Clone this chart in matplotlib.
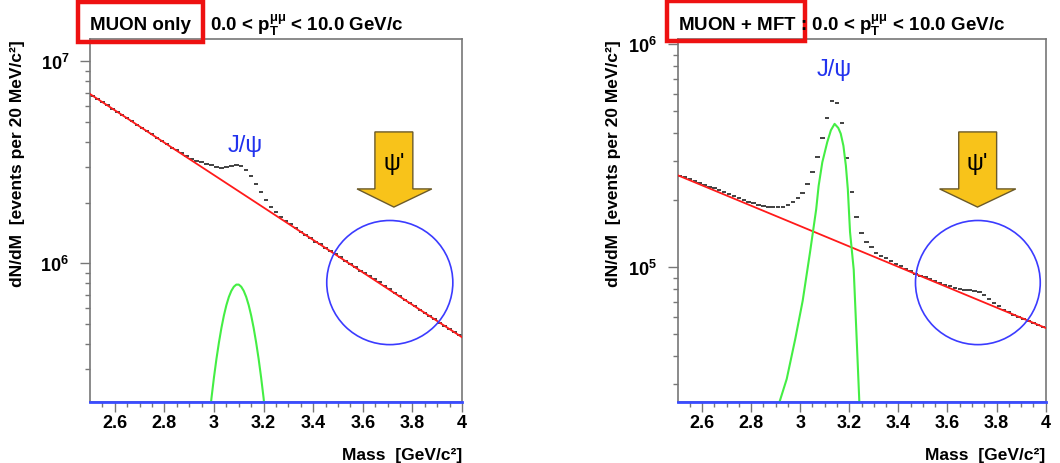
import numpy as np
import matplotlib.pyplot as plt
from matplotlib.patches import Polygon, Ellipse, Rectangle
from matplotlib.ticker import LogLocator, NullFormatter

plt.rcParams['font.family'] = ['Liberation Sans', 'DejaVu Sans']
plt.rcParams['font.weight'] = 'bold'
plt.rcParams['mathtext.fontset'] = 'custom'
plt.rcParams['mathtext.rm'] = 'Liberation Sans:bold'
plt.rcParams['mathtext.it'] = 'Liberation Sans:bold'
plt.rcParams['mathtext.bf'] = 'Liberation Sans:bold'

# 20 MeV bin centres, 2.5 - 4.0 GeV
mass = np.round(np.arange(2.51, 4.0, 0.02), 2)

# MUON only
muon_data = [6.76e6, 6.52e6, 6.28e6, 6.05e6, 5.83e6, 5.62e6, 5.42e6, 5.22e6, 5.04e6, 4.85e6,
             4.68e6, 4.51e6, 4.35e6, 4.18e6, 4.03e6, 3.88e6, 3.74e6, 3.63e6, 3.52e6, 3.40e6,
             3.30e6, 3.22e6, 3.18e6, 3.12e6, 3.07e6, 3.01e6, 2.97e6, 2.99e6, 3.03e6, 3.07e6,
             3.03e6, 2.90e6, 2.70e6, 2.47e6, 2.25e6, 2.05e6, 1.91e6, 1.79e6, 1.70e6, 1.62e6,
             1.56e6, 1.49e6, 1.43e6, 1.38e6, 1.33e6, 1.28e6, 1.24e6, 1.19e6, 1.15e6, 1.11e6,
             1.07e6, 1.03e6, 9.91e5, 9.55e5, 9.20e5, 8.91e5, 8.63e5, 8.34e5, 8.05e5, 7.76e5,
             7.46e5, 7.16e5, 6.89e5, 6.61e5, 6.37e5, 6.12e5, 5.90e5, 5.69e5, 5.48e5, 5.28e5,
             5.09e5, 4.91e5, 4.73e5, 4.56e5, 4.40e5]
muon_bkg_m = [2.5, 4.0]
muon_bkg = [6.89e6, 4.31e5]
muon_jpsi_m = [2.98, 2.99, 3.00, 3.01, 3.02, 3.03, 3.04, 3.05, 3.06, 3.07, 3.08, 3.09,
               3.10, 3.11, 3.12, 3.13, 3.14, 3.15, 3.16, 3.17, 3.18, 3.19, 3.20, 3.21]
muon_jpsi = [1.66e5, 2.16e5, 2.73e5, 3.37e5, 4.06e5, 4.79e5, 5.52e5, 6.21e5, 6.82e5, 7.31e5,
             7.66e5, 7.85e5, 7.85e5, 7.66e5, 7.31e5, 6.82e5, 6.21e5, 5.52e5, 4.79e5, 4.06e5,
             3.37e5, 2.73e5, 2.16e5, 1.66e5]

# MUON + MFT
mft_data = [2.57e5, 2.53e5, 2.48e5, 2.43e5, 2.39e5, 2.34e5, 2.30e5, 2.27e5, 2.23e5, 2.18e5,
            2.14e5, 2.09e5, 2.05e5, 2.01e5, 1.97e5, 1.94e5, 1.91e5, 1.88e5, 1.87e5, 1.86e5,
            1.86e5, 1.87e5, 1.91e5, 1.96e5, 2.05e5, 2.15e5, 2.36e5, 2.68e5, 3.12e5, 3.81e5,
            4.69e5, 5.60e5, 5.48e5, 4.43e5, 3.08e5, 2.18e5, 1.69e5, 1.43e5, 1.30e5, 1.23e5,
            1.16e5, 1.13e5, 1.10e5, 1.07e5, 1.04e5, 1.01e5, 9.86e4, 9.61e4, 9.36e4, 9.17e4,
            9.02e4, 8.85e4, 8.69e4, 8.53e4, 8.37e4, 8.21e4, 8.08e4, 7.98e4, 7.93e4, 7.89e4,
            7.85e4, 7.79e4, 7.51e4, 7.20e4, 6.92e4, 6.68e4, 6.47e4, 6.29e4, 6.13e4, 6.00e4,
            5.88e4, 5.76e4, 5.64e4, 5.52e4, 5.40e4]
mft_bkg_m = [2.5, 4.0]
mft_bkg = [2.59e5, 5.35e4]
mft_jpsi_m = [2.90, 2.915, 2.945, 2.98, 3.01, 3.04, 3.065, 3.075, 3.09, 3.11, 3.125,
              3.14, 3.155, 3.165, 3.176, 3.186, 3.194, 3.203, 3.218, 3.23, 3.241, 3.25]
mft_jpsi = [2.14e4, 2.48e4, 3.16e4, 4.79e4, 7.08e4, 1.17e5, 1.82e5, 2.32e5, 2.96e5, 3.64e5,
            4.12e5, 4.40e5, 4.22e5, 3.98e5, 3.51e5, 2.86e5, 2.24e5, 1.44e5, 9.77e4, 4.79e4,
            2.48e4, 2.0e4]

xticks = [2.6, 2.8, 3.0, 3.2, 3.4, 3.6, 3.8, 4.0]
xticklabels = ['2.6', '2.8', '3', '3.2', '3.4', '3.6', '3.8', '4']

gray = '#777777'


def panel(ax, data, bkg_m, bkg, jpsi_m, jpsi, ylim, yticks, ylabx, jx, jy, ax_x, cx):
    ax.hlines(data, mass - 0.009, mass + 0.009, colors='#333333', lw=1.3, zorder=2)
    ax.plot(bkg_m, bkg, color='#ff1a1a', lw=1.3, zorder=3)
    ax.plot(jpsi_m, jpsi, color='#44ee44', lw=1.5, zorder=3)
    ax.axhline(ylim[0], color='#3a4cff', lw=2, zorder=5, clip_on=False)
    ax.set_yscale('log')
    ax.set_xlim(2.5, 4.0)
    ax.set_ylim(*ylim)
    ax.set_xticks(xticks, labels=xticklabels)
    ax.set_xticks(np.arange(2.55, 4.0, 0.05), minor=True)
    ax.set_yticks(yticks, labels=['10$^{%d}$' % int(np.log10(t)) for t in yticks])
    ax.yaxis.set_minor_locator(LogLocator(base=10, subs=np.arange(2, 10)))
    ax.yaxis.set_minor_formatter(NullFormatter())
    ax.tick_params(which='major', direction='out', length=7, width=1, color=gray,
                   labelsize=13, pad=2)
    ax.tick_params(axis='y', which='major', pad=8)
    ax.tick_params(which='minor', direction='out', length=3.5, width=1, color=gray)
    for s in ax.spines.values():
        s.set_color(gray)
        s.set_linewidth(1.2)
    ax.set_xlabel('Mass  [GeV/c²]', fontsize=12.5, fontweight='bold', ha='right')
    ax.xaxis.set_label_coords(1.0, -0.125)
    ax.set_ylabel('dN/dM  [events per 20 MeV/c²]', fontsize=12.5, fontweight='bold',
                  ha='right', va='center')
    ax.yaxis.set_label_coords(ylabx, 1.0)

    ax.text(jx, jy, 'J/ψ', transform=ax.transAxes, color='#2233ee', fontsize=17,
            fontweight='normal', ha='center', va='center')
    # psi' arrow
    xl, xr, hl, hr, tip = ax_x
    arrow = Polygon([(xl, 0.744), (xr, 0.744), (xr, 0.587), (hr, 0.587), (tip, 0.537),
                     (hl, 0.587), (xl, 0.587)], closed=True, transform=ax.transAxes,
                    facecolor='#f8c31a', edgecolor='#6b5a2a', lw=1, zorder=6)
    ax.add_patch(arrow)
    ax.text((xl + xr) / 2, 0.658, "ψ'", transform=ax.transAxes, fontsize=17,
            fontweight='normal', ha='center', va='center', zorder=7)
    ax.add_patch(Ellipse((cx, 0.329), 0.339, 0.342, transform=ax.transAxes,
                         fill=False, edgecolor='#3b3bff', lw=1.2, zorder=6))


fig = plt.figure(figsize=(10.6, 4.64), dpi=100)
ax1 = fig.add_axes([0.0849, 0.1315, 0.3509, 0.7823])
ax2 = fig.add_axes([0.6392, 0.1315, 0.3472, 0.7823])

panel(ax1, muon_data, muon_bkg_m, muon_bkg, muon_jpsi_m, muon_jpsi,
      (2.06e5, 1.29e7), [1e6, 1e7], -0.196, 0.417, 0.708,
      (0.766, 0.868, 0.718, 0.919, 0.817), 0.806)
panel(ax2, mft_data, mft_bkg_m, mft_bkg, mft_jpsi_m, mft_jpsi,
      (2.49e4, 1.057e6), [1e5, 1e6], -0.175, 0.425, 0.917,
      (0.764, 0.867, 0.712, 0.919, 0.815), 0.816)

# titles with red boxes
fig.text(0.0849, 0.946, 'MUON only', fontsize=13.5, fontweight='bold', va='center')
fig.text(0.198, 0.946, r'0.0 < p$_{T}^{\mu\mu}$ < 10.0 GeV/c', fontsize=13.5,
         fontweight='bold', va='center')
fig.text(0.6396, 0.946, r'MUON + MFT : 0.0 < p$_{T}^{\mu\mu}$ < 10.0 GeV/c', fontsize=13.5,
         fontweight='bold', va='center')
fig.add_artist(Rectangle((0.0736, 0.9073), 0.1179, 0.0862, transform=fig.transFigure,
                         fill=False, edgecolor='#ee1111', lw=3.2))
fig.add_artist(Rectangle((0.6292, 0.9095), 0.1302, 0.0862, transform=fig.transFigure,
                         fill=False, edgecolor='#ee1111', lw=3.2))

fig.savefig('out.png', dpi=100)
